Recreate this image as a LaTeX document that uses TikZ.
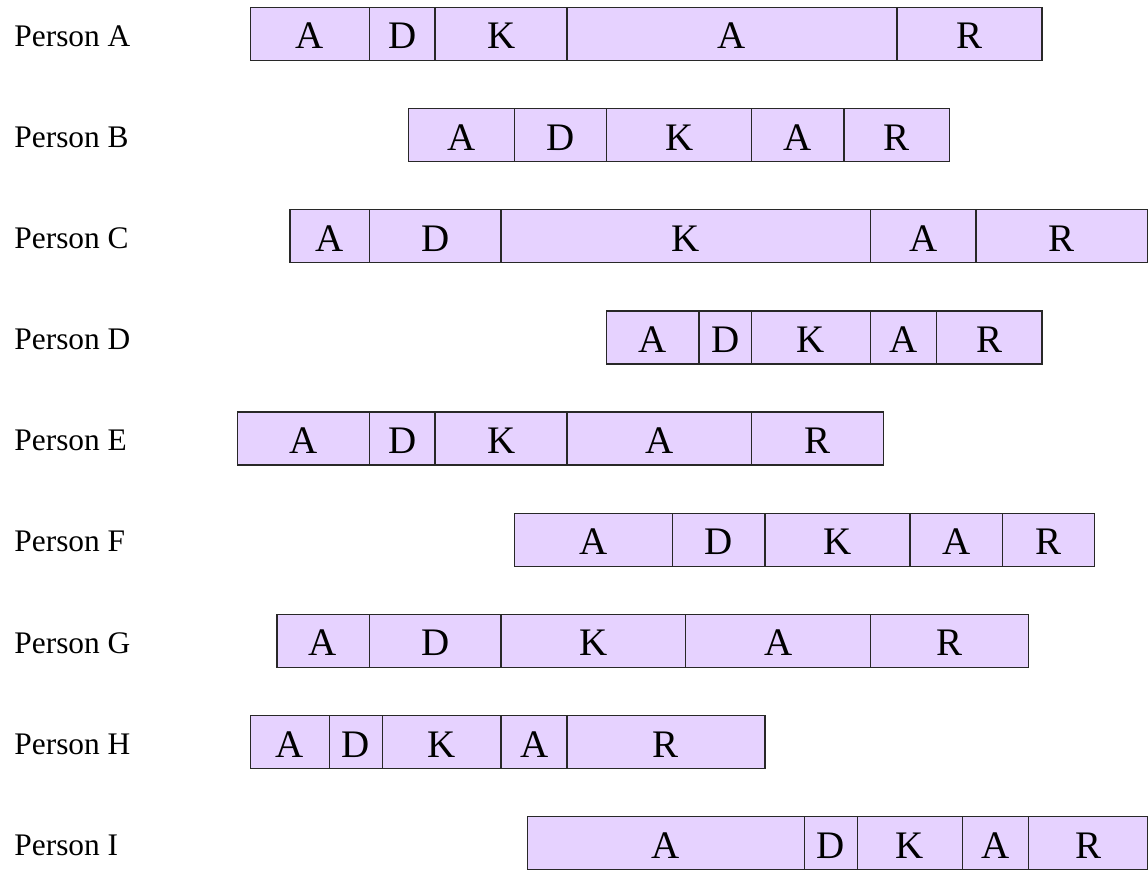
\documentclass[tikz,border=0pt]{standalone}
\usepackage{fontspec}
\setmainfont{Liberation Serif}
\definecolor{cellfill}{RGB}{230,210,255}
\definecolor{celledge}{RGB}{40,40,40}

\begin{document}
\begin{tikzpicture}[x=0.5pt, y=-0.5pt,
  cell/.style={draw=celledge, fill=cellfill, line width=0.7pt, inner sep=0pt,
               minimum height=26.5pt, text height=15pt, text depth=0pt,
               font=\fontsize{19.5}{22}\selectfont},
  who/.style={anchor=west, inner sep=0pt, font=\fontsize{15.7}{18}\selectfont}
]
  \useasboundingbox (0,0) rectangle (1148,872);

  % one row per person: start/end of each phase on a grid
  \foreach \p/\r/\cells in {
    A/0/{0/9/A, 9/14/D, 14/24/K, 24/49/A, 49/60/R},
    B/1/{12/20/A, 20/27/D, 27/38/K, 38/45/A, 45/53/R},
    C/2/{3/9/A, 9/19/D, 19/47/K, 47/55/A, 55/68/R},
    D/3/{27/34/A, 34/38/D, 38/47/K, 47/52/A, 52/60/R},
    E/4/{-1/9/A, 9/14/D, 14/24/K, 24/38/A, 38/48/R},
    F/5/{20/32/A, 32/39/D, 39/50/K, 50/57/A, 57/64/R},
    G/6/{2/9/A, 9/19/D, 19/33/K, 33/47/A, 47/59/R},
    H/7/{0/6/A, 6/10/D, 10/19/K, 19/24/A, 24/39/R},
    I/8/{21/42/A, 42/46/D, 46/54/K, 54/59/A, 59/68/R}%
  }{
    \node[who] (lbl\p) at ({14}, {36+101.15*\r}) {Person \p};
    \foreach \a/\b/\t [count=\i] in \cells {
      \node[cell, minimum width={(\b-(\a))*6.595pt}] (\p\i)
        at ({250.5+6.595*(\a+\b)}, {34+101.15*\r}) {\t};
    }
  }
\end{tikzpicture}
\end{document}
